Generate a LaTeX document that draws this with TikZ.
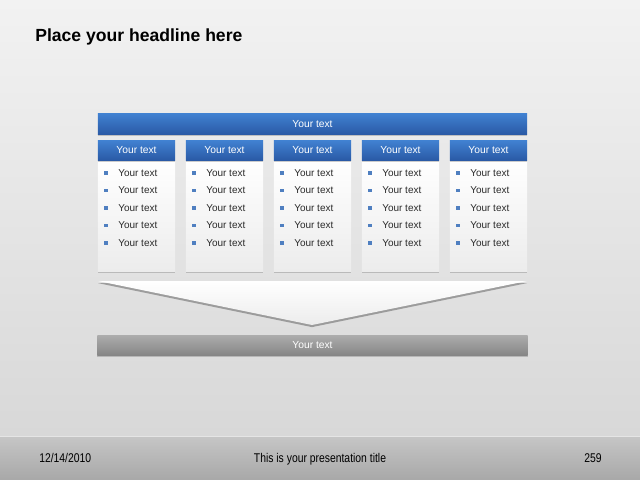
\documentclass[tikz,border=0pt]{standalone}
\usepackage{fontspec}
\setmainfont{Liberation Sans}
\usetikzlibrary{shadows}
\definecolor{bgtop}{HTML}{F2F2F2}
\definecolor{bgbot}{HTML}{D8D8D8}
\definecolor{foottop}{HTML}{C6C6C6}
\definecolor{footbot}{HTML}{A8A8A8}
\definecolor{bluetop}{HTML}{4080D0}
\definecolor{bluebot}{HTML}{2A5AA6}
\definecolor{graytop}{HTML}{ABABAB}
\definecolor{graybot}{HTML}{868686}
\definecolor{bodybot}{HTML}{ECECEC}
\definecolor{bulletblue}{HTML}{4F7FC0}
\definecolor{txt}{HTML}{2A2A2A}
\tikzset{
  shade1/.style={drop shadow={shadow xshift=0pt,shadow yshift=-1.5pt,opacity=0.4}},
  bluebar/.style={rectangle, inner sep=0pt, top color=bluetop, bottom color=bluebot,
     text=white, font=\fontsize{7.3}{8}\selectfont, shade1},
  graybar/.style={rectangle, inner sep=0pt, top color=graytop, bottom color=graybot,
     text=white, font=\fontsize{7.3}{8}\selectfont, shade1},
  colbody/.style={rectangle, inner sep=0pt, top color=white, bottom color=bodybot,
     minimum width=1.925cm, minimum height=2.775cm, shade1},
  colhead/.style={bluebar, minimum width=1.925cm, minimum height=0.475cm},
  bul/.style={rectangle, inner sep=0pt, fill=bulletblue, minimum size=2.8pt},
  itemtxt/.style={anchor=west, inner sep=0pt, text=txt, font=\fontsize{7.1}{8}\selectfont},
  foottxt/.style={inner sep=0pt, text=black, font=\fontsize{9}{10}\selectfont},
}
\begin{document}
\begin{tikzpicture}[x=0.025cm, y=-0.025cm]
\useasboundingbox (0,0) rectangle (640,480);
% background
\shade[top color=bgtop, bottom color=bgbot] (0,0) rectangle (640,436);
\shade[top color=foottop, bottom color=footbot] (0,436) rectangle (640,480);
\draw[white!80!gray, line width=0.4pt] (0,436) -- (640,436);
% headline
\node[anchor=west, inner sep=0pt, font=\fontsize{12.5}{14}\selectfont\bfseries] (head) at (35,37) {Place your headline here};
% top bar
\node[bluebar, minimum width=10.725cm, minimum height=0.5cm] (topbar) at (312.5,124) {Your text};
% columns
\foreach \i/\cx in {1/136.5, 2/224.5, 3/312.5, 4/400.5, 5/488.5}{
  \node[colbody] (body\i) at (\cx,215.5) {};
  \node[colhead] (hd\i) at (\cx,150.5) {Your text};
  \foreach \j/\yy in {1/173, 2/190.5, 3/208, 4/225.5, 5/243}{
    \node[bul] (b\i\j) at (\cx-30.5,\yy) {};
    \node[itemtxt] (t\i\j) at (\cx-18.5,\yy) {Your text};
  }
}
% funnel
\coordinate (fl) at (98,281);
\coordinate (fr) at (527,281);
\coordinate (fa) at (312,325);
\fill[black, opacity=0.3] ([yshift=-1.5pt]fl) -- ([yshift=-1.5pt]fa) -- ([yshift=-1.5pt]fr) -- cycle;
\shade[top color=white, bottom color=bodybot] (fl) -- (fr) -- (fa) -- cycle;
% bottom bar
\node[graybar, minimum width=10.75cm, minimum height=0.475cm] (botbar) at (312.5,345.5) {Your text};
% footer
\node[foottxt, anchor=base west] (date) at (39,462.5) {\scalebox{0.82}[1]{12/14/2010}};
\node[foottxt, anchor=base] (title) at (320,462.5) {\scalebox{0.82}[1]{This is your presentation title}};
\node[foottxt, anchor=base] (num) at (593,462.5) {\scalebox{0.82}[1]{259}};
\end{tikzpicture}
\end{document}
